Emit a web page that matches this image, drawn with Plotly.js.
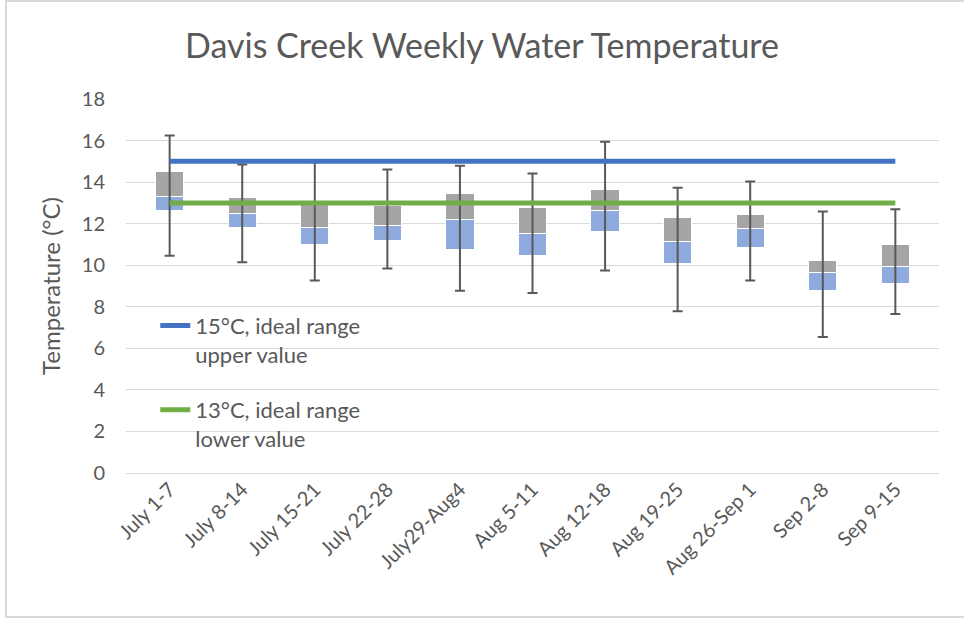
<!DOCTYPE html>
<html>
<head>
<meta charset="utf-8">
<script src="https://cdn.plot.ly/plotly-3.0.1.min.js"></script>
<style>
  html, body { margin: 0; padding: 0; background: #fff; overflow: hidden; }
  #wrap { position: relative; width: 964px; height: 619px; overflow: hidden; }
  #chart { position: absolute; left: 0; top: 0; width: 964px; height: 619px; }
  #frame { position: absolute; left: 5px; top: 0px; width: 964px; height: 618px;
           border: 2px solid #d9d9d9; box-sizing: border-box; pointer-events: none; }
</style>
</head>
<body>
<div id="wrap">
  <div id="chart"></div>
  <div id="frame"></div>
</div>
<script>
// Weekly categories
const weeks = ["July 1-7", "July 8-14", "July 15-21", "July 22-28", "July29-Aug4",
               "Aug 5-11", "Aug 12-18", "Aug 19-25", "Aug 26-Sep 1", "Sep 2-8", "Sep 9-15"];
// Box-plot statistics (°C)
const minTemp = [10.45, 10.14, 9.26, 9.84, 8.77, 8.66, 9.74, 7.78, 9.26, 6.54, 7.65];
const q1Temp  = [12.61, 11.81, 11.02, 11.21, 10.75, 10.45, 11.63, 10.06, 10.86, 8.77, 9.10];
const medTemp = [13.30, 12.48, 11.81, 11.90, 12.19, 11.52, 12.63, 11.12, 11.79, 9.63, 9.94];
const q3Temp  = [14.51, 13.25, 12.90, 12.88, 13.44, 12.77, 13.65, 12.29, 12.46, 10.23, 10.99];
const maxTemp = [16.24, 14.85, 14.95, 14.61, 14.79, 14.42, 15.94, 13.73, 14.03, 12.58, 12.69];
// Ideal range reference values
const upperIdeal = [15, 15, 15, 15, 15, 15, 15, 15, 15, 15, 15];
const lowerIdeal = [13, 13, 13, 13, 13, 13, 13, 13, 13, 13, 13];

const FONT = "Lato, 'Open Sans', sans-serif";
const TXT = "#595959";

const lowerBox = medTemp.map((m, i) => m - q1Temp[i]);
const upperBox = q3Temp.map((q, i) => q - medTemp[i]);
const errPlus  = maxTemp.map((m, i) => m - medTemp[i]);
const errMinus = medTemp.map((m, i) => m - minTemp[i]);

const traces = [
  { type: "bar", x: weeks, y: q1Temp, marker: { color: "rgba(0,0,0,0)" },
    showlegend: false, hoverinfo: "skip" },
  { type: "bar", x: weeks, y: lowerBox, marker: { color: "#8FAADC", line: { color: "#ffffff", width: 1 } },
    showlegend: false, name: "Q1-Median" },
  { type: "bar", x: weeks, y: upperBox, marker: { color: "#A5A5A5", line: { color: "#ffffff", width: 1 } },
    showlegend: false, name: "Median-Q3" },
  { type: "scatter", mode: "markers", x: weeks, y: medTemp,
    marker: { size: 1, color: "rgba(0,0,0,0)" }, showlegend: false,
    error_y: { type: "data", symmetric: false, array: errPlus, arrayminus: errMinus,
               color: "#595959", thickness: 2, width: 5 } },
  { type: "scatter", mode: "lines", x: weeks, y: upperIdeal, name: "15°C, ideal range<br>upper value",
    line: { color: "#4472C4", width: 5 }, legendgroup: "a" },
  { type: "scatter", mode: "lines", x: weeks, y: lowerIdeal, name: "13°C, ideal range<br>lower value",
    line: { color: "#70AD47", width: 5 }, legendgroup: "b" }
];

const layout = {
  width: 964, height: 619,
  margin: { l: 126, r: 25, t: 99, b: 146 },
  paper_bgcolor: "#ffffff", plot_bgcolor: "#ffffff",
  font: { family: FONT, color: TXT, size: 20 },
  title: { text: "Davis Creek Weekly Water Temperature", font: { family: FONT, size: 34, color: TXT },
           x: 0.5, xanchor: "center", y: 0.925, yanchor: "middle" },
  barmode: "stack", bargap: 0.61,
  showlegend: true,
  legend: { x: 0.036, y: 0.45, xanchor: "left", yanchor: "top", bgcolor: "rgba(0,0,0,0)",
            font: { family: FONT, size: 22, color: TXT }, traceorder: "grouped",
            tracegroupgap: 24, valign: "top" },
  xaxis: { type: "category", tickangle: -45, showgrid: false, showline: false, zeroline: false,
           tickfont: { family: FONT, size: 20, color: TXT }, ticks: "" },
  yaxis: { range: [0, 18], dtick: 2, showgrid: true, gridcolor: "#d9d9d9", gridwidth: 1,
           zeroline: true, zerolinecolor: "#d9d9d9", zerolinewidth: 1, showline: false,
           ticks: "", ticklabelstandoff: 20,
           tickfont: { family: FONT, size: 20, color: TXT },
           title: { text: "Temperature (°C)", font: { family: FONT, size: 24, color: TXT }, standoff: 14 } },
  hovermode: false
};

Plotly.newPlot("chart", traces, layout, { displayModeBar: false, staticPlot: true });
</script>
</body>
</html>
